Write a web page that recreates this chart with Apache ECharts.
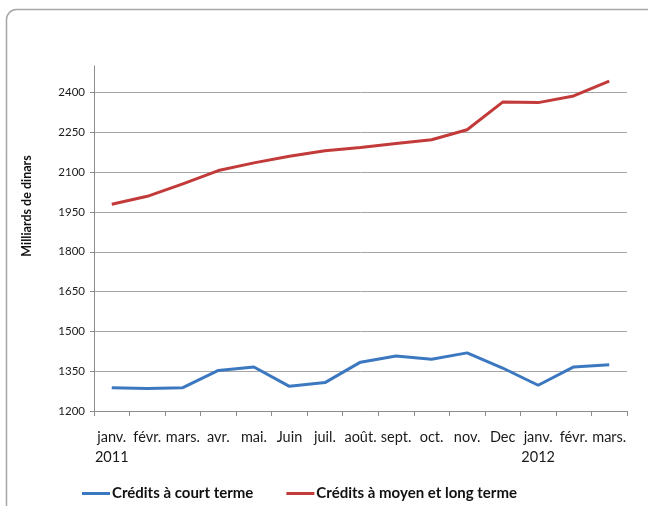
<!DOCTYPE html>
<html>
<head>
<meta charset="utf-8">
<script src="https://cdn.jsdelivr.net/npm/echarts@6/dist/echarts.min.js"></script>
<style>
  html, body { margin: 0; padding: 0; background: #fff; }
  #chart { width: 648px; height: 506px; }
</style>
</head>
<body>
<div id="chart"></div>
<script>
// données
const months = ['janv.\n2011', 'févr.', 'mars.', 'avr.', 'mai.', 'Juin', 'juil.', 'août.', 'sept.', 'oct.', 'nov.', 'Dec', 'janv.\n2012', 'févr.', 'mars.'];
const courtTerme = [1288, 1285, 1288, 1353, 1366, 1293, 1307, 1384, 1407, 1395, 1419, 1362, 1297, 1366, 1374];
const moyenLongTerme = [1979, 2009, 2056, 2106, 2135, 2160, 2181, 2193, 2208, 2222, 2260, 2364, 2362, 2387, 2443];
const yTicks = { min: 1200, max: 2500, step: 150 };

const chart = echarts.init(document.getElementById('chart'));

const font = 'Lato, "Open Sans", sans-serif';

const option = {
    animation: false,
    textStyle: { fontFamily: font },
    grid: { left: 94, right: 21, top: 66, bottom: 95 },
    graphic: [
        {
            type: 'rect',
            shape: { x: 6.5, y: 9.5, width: 680, height: 540, r: 10 },
            style: { fill: 'none', stroke: '#a6a6a6', lineWidth: 1.5 },
            silent: true
        },
        {
            type: 'text',
            x: 27,
            y: 206,
            rotation: Math.PI / 2,
            style: {
                text: 'Milliards de dinars',
                font: 'bold 12.5px ' + font,
                fill: '#111',
                align: 'center',
                verticalAlign: 'middle'
            }
        }
    ],
    legend: {
        left: 77,
        top: 481,
        itemWidth: 28,
        itemHeight: 3,
        itemGap: 33,
        icon: 'rect',
        textStyle: { fontFamily: font, fontWeight: 'bold', fontSize: 15, color: '#111', padding: [0, 0, 0, -3] },
        data: ['Crédits à court terme', 'Crédits à moyen et long terme']
    },
    xAxis: {
        type: 'category',
        data: months,
        boundaryGap: true,
        axisLine: { lineStyle: { color: '#8c8c8c' } },
        axisTick: { show: true, interval: 0, length: 5, lineStyle: { color: '#8c8c8c' } },
        axisLabel: { interval: 0, fontSize: 14.5, lineHeight: 20, margin: 16, color: '#1a1a1a', fontFamily: font }
    },
    yAxis: {
        type: 'value',
        min: yTicks.min,
        max: yTicks.max,
        interval: yTicks.step,
        axisLine: { show: true, lineStyle: { color: '#8c8c8c' } },
        axisTick: { show: true, length: 4, lineStyle: { color: '#8c8c8c' } },
        axisLabel: {
            fontSize: 11.5,
            color: '#1a1a1a',
            margin: 9,
            showMaxLabel: false,
            fontFamily: font,
            formatter: v => String(v)
        },
        splitLine: { show: true, showMaxLine: false, lineStyle: { color: '#a6a6a6' } }
    },
    series: [
        {
            name: 'Crédits à court terme',
            type: 'line',
            data: courtTerme,
            symbol: 'none',
            color: '#3c78c0',
            lineStyle: { width: 3 }
        },
        {
            name: 'Crédits à moyen et long terme',
            type: 'line',
            data: moyenLongTerme,
            symbol: 'none',
            color: '#c23b3a',
            lineStyle: { width: 3 }
        }
    ]
};

chart.setOption(option);
window.addEventListener('resize', () => chart.resize());
</script>
</body>
</html>
